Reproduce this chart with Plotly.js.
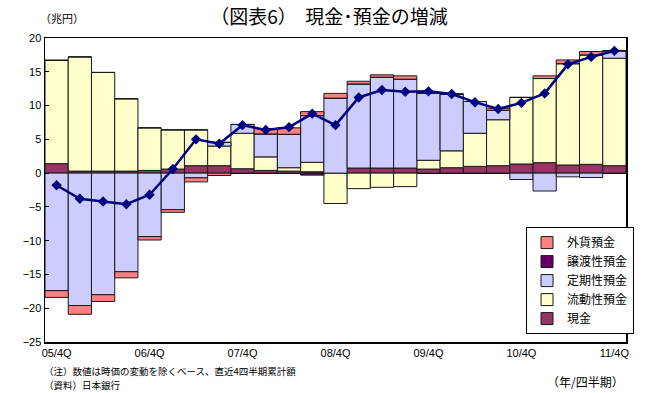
<!DOCTYPE html>
<html>
<head>
<meta charset="utf-8">
<script src="https://cdn.plot.ly/plotly-3.0.1.min.js"></script>
<style>
  html, body { margin: 0; padding: 0; background: #fff; }
  #chart { width: 645px; height: 393px; }
</style>
</head>
<body>
<div id="chart"></div>
<script>
// Quarterly change in cash and deposits (trillion yen, trailing 4-quarter sum)
const quarters = ['05/4Q','06/1Q','06/2Q','06/3Q','06/4Q','07/1Q','07/2Q','07/3Q','07/4Q',
                  '08/1Q','08/2Q','08/3Q','08/4Q','09/1Q','09/2Q','09/3Q','09/4Q',
                  '10/1Q','10/2Q','10/3Q','10/4Q','11/1Q','11/2Q','11/3Q','11/4Q'];
const tickQuarters = ['05/4Q','06/4Q','07/4Q','08/4Q','09/4Q','10/4Q','11/4Q'];

const cash    = [1.4, 0.3, 0.3, 0.3, 0.4, 0.6, 1.1, 1.1, 0.65, 0.4, 0.3, 0.2, 0, 0.75, 0.75, 0.75, 0.6, 0.8, 1.0, 1.1, 1.35, 1.55, 1.2, 1.3, 1.1];
const demand  = [15.3, 16.9, 14.6, 10.7, 6.3, 5.8, 5.3, 2.9, 5.25, 2.0, 0.5, 1.4, -4.5, -2.3, -2.1, -2.0, 1.3, 2.5, 4.9, 6.8, 9.85, 12.45, 15.0, 16.2, 15.9];
const timeDep = [-17.4, -19.6, -18.0, -14.6, -9.4, -5.4, -0.7, 0.55, 1.3, 3.4, 4.95, 6.9, 11.1, 12.45, 13.45, 13.15, 9.9, 8.4, 4.7, 1.4, -0.95, -2.65, -0.55, -0.65, 1.1];
const cdDep   = [0, 0, 0, 0, 0, 0, 0, 0, 0, 0, 0, -0.3, 0, 0, 0, 0, 0, 0, 0, 0, 0, 0, 0, 0, 0];
const fxDep   = [-1.0, -1.3, -1.0, -0.9, -0.5, -0.4, -0.6, -0.35, 0, 0.8, 0.95, 0.6, 0.7, 0.4, 0.35, 0.5, 0.1, 0, 0, 0.3, 0, 0.4, 0.55, 0.5, 0];
const total   = [-1.8, -3.8, -4.2, -4.6, -3.2, 0.6, 5.0, 4.35, 7.1, 6.4, 6.8, 8.8, 7.1, 11.2, 12.3, 12.05, 12.1, 11.7, 10.5, 9.5, 10.4, 11.8, 16.1, 17.2, 18.1];

const FONT = 'Liberation Sans, Arial, "Noto Sans CJK JP", sans-serif';
const JP = '"Noto Sans CJK JP", sans-serif';

function barTrace(name, values, color) {
  return {
    type: 'bar', name: name, x: quarters, y: values,
    marker: { color: color, line: { color: '#1a1a1a', width: 1 } },
    hoverinfo: 'skip'
  };
}

const traces = [
  barTrace('現金', cash, '#993366'),
  barTrace('流動性預金', demand, '#FFFFCC'),
  barTrace('定期性預金', timeDep, '#CCCCFF'),
  barTrace('譲渡性預金', cdDep, '#660066'),
  barTrace('外貨預金', fxDep, '#FF8080'),
  {
    type: 'scatter', mode: 'lines+markers', name: '合計', x: quarters, y: total,
    line: { color: '#000080', width: 2.5 },
    marker: { symbol: 'diamond', size: 8, color: '#000080' },
    showlegend: false, hoverinfo: 'skip'
  }
];

const layout = {
  width: 645, height: 393,
  margin: { l: 45, r: 18, t: 38, b: 51 },
  paper_bgcolor: '#fff', plot_bgcolor: '#fff',
  font: { family: FONT, size: 11, color: '#000' },
  barmode: 'relative', bargap: 0,
  showlegend: true,
  title: {
    text: '（図表6）  現金･預金の増減',
    font: { family: JP, size: 19, color: '#000' },
    x: 0.51, xref: 'container', xanchor: 'center',
    y: 0.955, yref: 'container', yanchor: 'middle'
  },
  xaxis: {
    type: 'category', range: [-0.5, 24.5],
    tickvals: tickQuarters, ticktext: tickQuarters, ticks: '',
    showline: true, linecolor: '#000', linewidth: 1.5, mirror: true,
    showgrid: false, zeroline: false,
    tickfont: { size: 11 }
  },
  yaxis: {
    range: [-25, 20], dtick: 5, ticks: 'inside', ticklen: 4, tickcolor: '#000',
    showline: true, linecolor: '#000', linewidth: 1.5, mirror: true,
    showgrid: false, zeroline: true, zerolinecolor: '#000', zerolinewidth: 1,
    tickfont: { size: 11 }
  },
  legend: {
    x: 0.8265, y: 0.378, xanchor: 'left', yanchor: 'top',
    traceorder: 'reversed',
    bgcolor: '#fff', bordercolor: '#000', borderwidth: 1,
    font: { family: JP, size: 12 },
    itemwidth: 30
  },
  annotations: [
    { text: '（兆円）', xref: 'paper', yref: 'paper', x: -0.012, y: 1.066,
      xanchor: 'left', yanchor: 'middle',
      showarrow: false, font: { family: JP, size: 11 } },
    { text: '（注）数値は時価の変動を除くベース、直近4四半期累計額',
      xref: 'paper', yref: 'paper',
      x: -0.005, y: -0.0954, xanchor: 'left', yanchor: 'middle',
      showarrow: false, font: { family: JP, size: 9.5 } },
    { text: '（資料）日本銀行',
      xref: 'paper', yref: 'paper',
      x: -0.005, y: -0.1414, xanchor: 'left', yanchor: 'middle',
      showarrow: false, font: { family: JP, size: 9.5 } },
    { text: '（年/四半期）', xref: 'paper', yref: 'paper',
      x: 1.0, y: -0.13, xanchor: 'right', yanchor: 'middle',
      showarrow: false, font: { family: JP, size: 12 } }
  ]
};

Plotly.newPlot('chart', traces, layout, { staticPlot: true, displayModeBar: false });
</script>
</body>
</html>
